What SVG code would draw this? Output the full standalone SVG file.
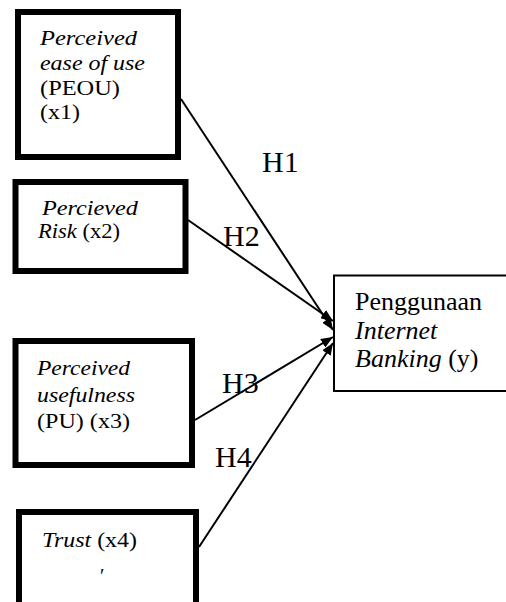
<svg xmlns="http://www.w3.org/2000/svg" width="506" height="602" viewBox="0 0 506 602" font-family="'Liberation Serif', 'Times New Roman', 'DejaVu Serif', serif">
<style>
text{font-family:'Liberation Serif','Times New Roman','DejaVu Serif',serif;fill:#000}
.b{font-size:20px}
.t{font-size:26px}
.h{font-size:30px}
.i{font-style:italic}
.box{fill:#fff;stroke:#000;stroke-width:6}
.tbox{fill:#fff;stroke:#000;stroke-width:2}
.c{stroke:#000;stroke-width:2;fill:none;marker-end:url(#ah)}
</style>
<defs>
<marker id="ah" viewBox="0 0 12 10" refX="12" refY="5" markerWidth="12" markerHeight="10" markerUnits="userSpaceOnUse" orient="auto">
<path d="M0,0 L12,5 L0,10 Z" fill="#000"/>
</marker>
</defs>
<rect width="506" height="602" fill="#fff"/>
<g id="x1">
<rect class="box" x="18" y="12" width="160" height="145"/>
<text class="b i" x="40" y="45" textLength="97" lengthAdjust="spacingAndGlyphs">Perceived</text>
<text class="b i" x="40" y="70" textLength="105" lengthAdjust="spacingAndGlyphs">ease of use</text>
<text class="b" x="40" y="95" textLength="80" lengthAdjust="spacingAndGlyphs">(PEOU)</text>
<text class="b" x="40" y="119" textLength="40" lengthAdjust="spacingAndGlyphs">(x1)</text>
</g>
<g id="x2">
<rect class="box" x="15.5" y="182" width="170" height="89"/>
<text class="b i" x="42" y="215" textLength="96" lengthAdjust="spacingAndGlyphs">Percieved</text>
<text class="b" x="38" y="238" textLength="82" lengthAdjust="spacingAndGlyphs"><tspan class="i">Risk</tspan> (x2)</text>
</g>
<g id="x3">
<rect class="box" x="15.5" y="341" width="176.5" height="124"/>
<text class="b i" x="37" y="375" textLength="93" lengthAdjust="spacingAndGlyphs">Perceived</text>
<text class="b i" x="37" y="402" textLength="98" lengthAdjust="spacingAndGlyphs">usefulness</text>
<text class="b" x="37" y="428" textLength="93" lengthAdjust="spacingAndGlyphs">(PU) (x3)</text>
</g>
<g id="x4">
<rect class="box" x="19" y="512" width="177" height="110"/>
<text class="b" x="42" y="547" textLength="95" lengthAdjust="spacingAndGlyphs"><tspan class="i">Trust</tspan> (x4)</text>
<text class="b" x="100" y="583">′</text>
</g>
<g id="y">
<rect class="tbox" x="334" y="275.5" width="200" height="115.5"/>
<text class="t" x="355" y="310">Penggunaan</text>
<text class="t i" x="355" y="339">Internet</text>
<text class="t" x="355" y="367"><tspan class="i">Banking</tspan> (y)</text>
</g>
<g id="connectors">
<line class="c" x1="181" y1="99" x2="333" y2="330"/>
<line class="c" x1="188" y1="220" x2="333" y2="321"/>
<line class="c" x1="195" y1="420" x2="333" y2="337"/>
<line class="c" x1="199" y1="547" x2="333" y2="343"/>
<text class="h" x="262" y="172">H1</text>
<text class="h" x="223" y="246">H2</text>
<text class="h" x="222" y="393">H3</text>
<text class="h" x="215" y="467">H4</text>
</g>
</svg>
